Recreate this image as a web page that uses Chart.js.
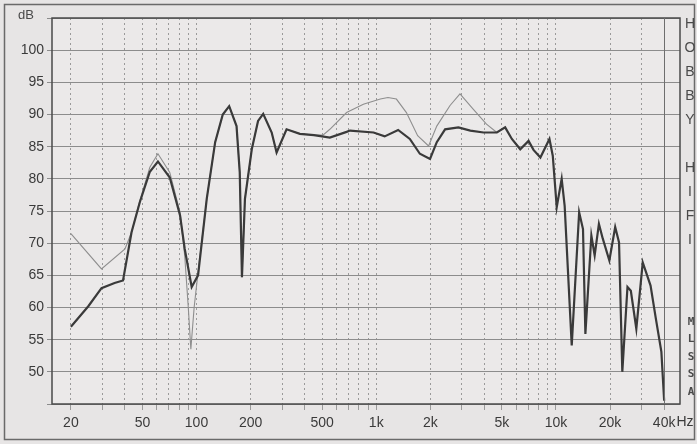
<!DOCTYPE html>
<html>
<head>
<meta charset="utf-8">
<script src="https://cdn.jsdelivr.net/npm/chart.js@4/dist/chart.umd.min.js"></script>
<style>
  html, body { margin: 0; padding: 0; background: #e7e5e5; }
  #wrap { width: 697px; height: 444px; position: relative; }
</style>
</head>
<body>
<div id="wrap"><canvas id="fr" width="697" height="444"></canvas></div>
<script>
// frequency response, thick = main measurement, thin = second measurement
const mainFreq = [20, 25, 29.6, 35, 39, 43.5, 48.4, 55, 61, 71, 81, 86, 94, 102, 114, 127, 140, 152, 167, 174,
    179, 186, 203, 220, 235, 262, 279, 317, 376, 450, 552, 684, 715, 966, 1114, 1324, 1538, 1749, 1992, 2172,
    2416, 2866, 3338, 3954, 4690, 5216, 5684, 6328, 7040, 7500, 8192, 9200, 9600, 10100, 10760, 11180, 12240,
    13460, 14140, 14580, 15740, 16420, 17340, 18220, 19820, 21360, 22440, 23400, 25000, 26100, 28000, 30400,
    33600, 36000, 38600, 40000];
const mainDb = [57.0, 60.2, 63.0, 63.8, 64.2, 71.7, 76.4, 81.1, 82.7, 80.2, 74.3, 69.1, 63.2, 65.0, 76.9, 85.7, 90.0, 91.3, 88.2, 81.0,
    64.7, 76.9, 84.6, 89.0, 90.1, 87.2, 84.1, 87.7, 87.0, 86.8, 86.4, 87.3, 87.5, 87.2, 86.6, 87.6, 86.2, 83.9, 83.1, 85.7,
    87.7, 88.0, 87.5, 87.2, 87.2, 88.0, 86.2, 84.6, 85.9, 84.5, 83.3, 86.2, 83.6, 75.6, 80.0, 75.8, 54.1,
    74.8, 72.2, 55.9, 71.2, 68.1, 73.0, 70.7, 67.3, 72.5, 70.1, 50.0, 63.2, 62.6, 56.7, 67.0,
    63.4, 58.2, 53.1, 45.5];

const refFreq = [20, 29.6, 40, 43.5, 48.4, 55, 61, 71, 81, 86, 90, 93, 97, 102, 114, 127, 140, 152, 167, 174,
    179, 186, 203, 220, 235, 262, 279, 317, 376, 450, 505, 552, 684, 848, 1054, 1162, 1295, 1472, 1700, 1956,
    2172, 2574, 2924, 3472, 4106, 4690, 5216];
const refDb = [71.5, 66.0, 69.1, 71.7, 76.6, 81.8, 83.9, 81.0, 74.8, 68.0, 60.0, 53.5, 60.0, 65.5, 76.9, 85.7, 90.0, 91.3, 88.2, 81.0,
    64.7, 76.9, 84.6, 89.0, 90.1, 87.2, 84.1, 87.7, 87.0, 86.8, 86.8, 87.7, 90.3, 91.6, 92.4, 92.65, 92.4, 90.3, 86.7, 85.1,
    88.2, 91.4, 93.2, 90.8, 88.5, 87.2, 88.0];

const gridFreqs = [20, 30, 40, 50, 60, 70, 80, 90, 100, 200, 300, 400, 500, 600, 700, 800, 900, 1000,
    2000, 3000, 4000, 5000, 6000, 7000, 8000, 9000, 10000, 20000, 30000, 40000];
const freqLabels = { 20: '20', 50: '50', 100: '100', 200: '200', 500: '500', 1000: '1k', 2000: '2k',
    5000: '5k', 10000: '10k', 20000: '20k', 40000: '40k' };
const dbTicks = [50, 55, 60, 65, 70, 75, 80, 85, 90, 95, 100];
const sideText = ['H', 'O', 'B', 'B', 'Y', '', 'H', 'I', 'F', 'I'];
const sideText2 = ['M', 'L', 'S', 'S', 'A'];

const toPoints = (fs, ds) => fs.map((f, i) => ({ x: f, y: ds[i] }));

// frame, plot border, 40k line, side texts
const decor = {
    id: 'decor',
    beforeDraw(chart) {
        const { ctx, chartArea: a } = chart;
        ctx.save();
        ctx.fillStyle = '#ebe9e9';
        ctx.fillRect(a.left, a.top, a.right - a.left, a.bottom - a.top);
        ctx.restore();
    },
    afterDraw(chart) {
        const { ctx, chartArea: a, scales } = chart;
        ctx.save();
        // outer frame
        ctx.strokeStyle = '#6a6a6a';
        ctx.lineWidth = 1.5;
        ctx.strokeRect(4.5, 4.5, 690, 435);
        // plot border
        ctx.strokeStyle = '#4a4a4a';
        ctx.lineWidth = 1.5;
        ctx.strokeRect(a.left, a.top, a.right - a.left, a.bottom - a.top);
        // solid 40k line
        const x40 = Math.round(scales.x.getPixelForValue(40000)) + 0.5;
        ctx.strokeStyle = '#6e6e6e';
        ctx.lineWidth = 1;
        ctx.beginPath();
        ctx.moveTo(x40, a.top);
        ctx.lineTo(x40, a.bottom);
        ctx.stroke();

        ctx.fillStyle = '#3a3a3a';
        ctx.textAlign = 'left';
        ctx.textBaseline = 'middle';
        ctx.font = '14px "Liberation Sans", Arial, sans-serif';
        ctx.fillText('Hz', x40 + 12, 422);
        ctx.fillStyle = '#4a4a4a';
        ctx.font = '13px "Liberation Sans", Arial, sans-serif';
        ctx.fillText('dB', 18, 15);

        ctx.textAlign = 'center';
        ctx.font = '14px "Liberation Sans", Arial, sans-serif';
        sideText.forEach((t, i) => ctx.fillText(t, 690, 24 + i * 24));
        ctx.font = 'bold 11px "DejaVu Sans Mono", monospace';
        sideText2.forEach((t, i) => ctx.fillText(t, 691, 322 + i * 17.5));
        ctx.restore();
    }
};

new Chart(document.getElementById('fr'), {
    type: 'scatter',
    data: {
        datasets: [{
            label: 'main',
            data: toPoints(mainFreq, mainDb),
            showLine: true,
            borderColor: '#3a3a3a',
            borderWidth: 2.2,
            pointRadius: 0,
            tension: 0
        }, {
            label: 'second',
            data: toPoints(refFreq, refDb),
            showLine: true,
            borderColor: '#8e8e8e',
            borderWidth: 1.1,
            pointRadius: 0,
            tension: 0
        }]
    },
    options: {
        responsive: false,
        animation: false,
        layout: { padding: { top: 18, right: 17, left: 0, bottom: 0 } },
        plugins: { legend: { display: false }, tooltip: { enabled: false } },
        scales: {
            x: {
                type: 'logarithmic',
                min: 15.7,
                max: 49000,
                afterBuildTicks: (scale) => { scale.ticks = gridFreqs.map(v => ({ value: v })); },
                afterFit: (scale) => { scale.height = 40; },
                border: { display: false, dash: [2, 3] },
                grid: { color: '#9a9a9a', lineWidth: 1, tickLength: 6 },
                ticks: {
                    autoSkip: false,
                    maxRotation: 0,
                    padding: 5,
                    color: '#3a3a3a',
                    font: { family: '"Liberation Sans", Arial, sans-serif', size: 14 },
                    callback: (v) => freqLabels[v] || ''
                }
            },
            y: {
                min: 45,
                max: 105,
                afterBuildTicks: (scale) => { scale.ticks = [45].concat(dbTicks, [105]).map(v => ({ value: v })); },
                afterFit: (scale) => { scale.width = 52; },
                border: { display: false },
                grid: { color: '#8c8c8c', lineWidth: 1, tickLength: 5 },
                ticks: {
                    padding: 3,
                    color: '#3a3a3a',
                    font: { family: '"Liberation Sans", Arial, sans-serif', size: 14 },
                    callback: (v) => dbTicks.includes(v) ? String(v) : ''
                }
            }
        }
    },
    plugins: [decor]
});
</script>
</body>
</html>
